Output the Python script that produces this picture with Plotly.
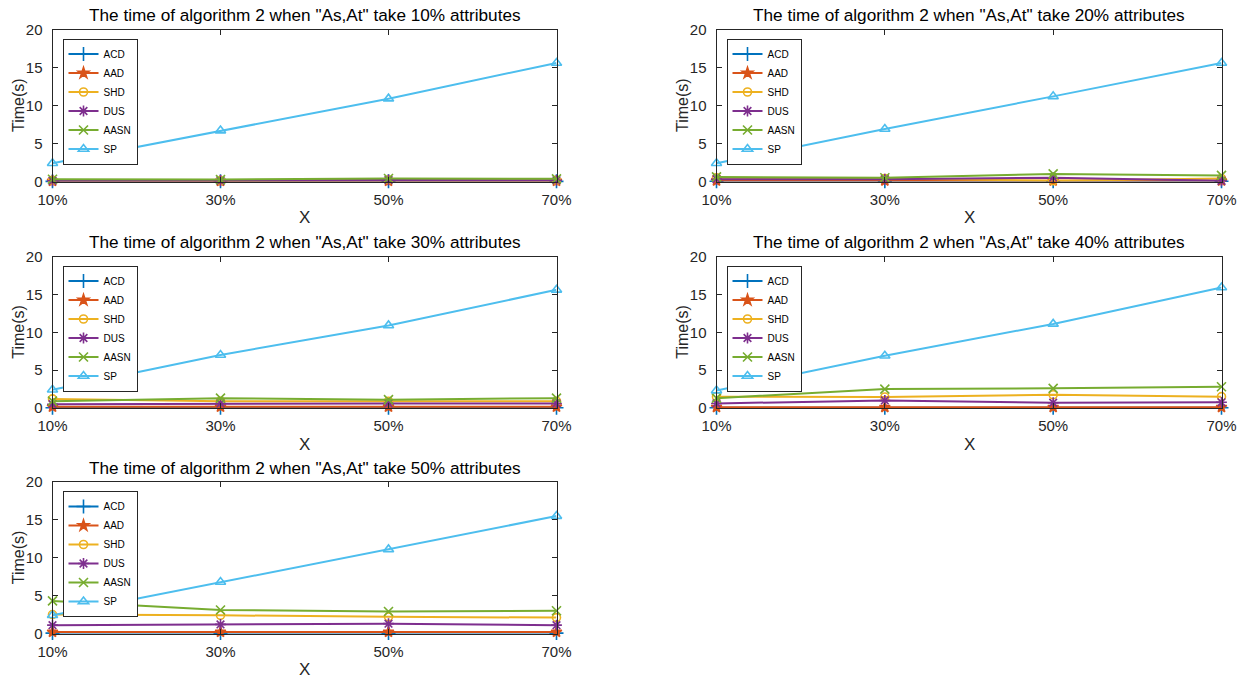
import plotly.graph_objects as go

x_vals = [10, 30, 50, 70]
x_labels = ["10%", "30%", "50%", "70%"]
y_ticks = [0, 5, 10, 15, 20]
series_names = ["ACD", "AAD", "SHD", "DUS", "AASN", "SP"]
panel_pcts = ["10%", "20%", "30%", "40%", "50%"]

# values per panel
p1_ACD = [0.02, 0.02, 0.02, 0.02]
p1_AAD = [0.05, 0.05, 0.06, 0.06]
p1_SHD = [0.15, 0.1, 0.2, 0.15]
p1_DUS = [0.1, 0.1, 0.2, 0.15]
p1_AASN = [0.3, 0.25, 0.4, 0.35]
p1_SP = [2.4, 6.7, 10.9, 15.6]

p2_ACD = [0.03, 0.03, 0.03, 0.03]
p2_AAD = [0.1, 0.1, 0.1, 0.1]
p2_SHD = [0.5, 0.4, 0.1, 0.4]
p2_DUS = [0.3, 0.3, 0.5, 0.1]
p2_AASN = [0.6, 0.5, 1.0, 0.8]
p2_SP = [2.4, 6.9, 11.2, 15.6]

p3_ACD = [0.03, 0.03, 0.03, 0.03]
p3_AAD = [0.15, 0.15, 0.15, 0.15]
p3_SHD = [1.2, 0.9, 0.9, 0.9]
p3_DUS = [0.5, 0.6, 0.6, 0.6]
p3_AASN = [0.9, 1.3, 1.1, 1.3]
p3_SP = [2.4, 7.0, 10.9, 15.6]

p4_ACD = [0.03, 0.03, 0.03, 0.03]
p4_AAD = [0.1, 0.1, 0.1, 0.1]
p4_SHD = [1.5, 1.45, 1.75, 1.5]
p4_DUS = [0.6, 1.0, 0.7, 0.75]
p4_AASN = [1.3, 2.5, 2.6, 2.8]
p4_SP = [2.3, 6.9, 11.1, 15.9]

p5_ACD = [0.05, 0.05, 0.05, 0.05]
p5_AAD = [0.2, 0.2, 0.2, 0.2]
p5_SHD = [2.5, 2.4, 2.2, 2.1]
p5_DUS = [1.1, 1.2, 1.3, 1.1]
p5_AASN = [4.3, 3.1, 2.9, 3.0]
p5_SP = [2.4, 6.8, 11.1, 15.5]

panels = [
    [p1_ACD, p1_AAD, p1_SHD, p1_DUS, p1_AASN, p1_SP],
    [p2_ACD, p2_AAD, p2_SHD, p2_DUS, p2_AASN, p2_SP],
    [p3_ACD, p3_AAD, p3_SHD, p3_DUS, p3_AASN, p3_SP],
    [p4_ACD, p4_AAD, p4_SHD, p4_DUS, p4_AASN, p4_SP],
    [p5_ACD, p5_AAD, p5_SHD, p5_DUS, p5_AASN, p5_SP],
]

colors = ["#0072BD", "#D95319", "#EDB120", "#7E2F8E", "#77AC30", "#4DBEEE"]
symbols = ["cross-thin-open", "star", "circle-open", "asterisk-open", "x-thin-open", "triangle-up-open"]
msizes = [10, 8, 8, 9, 9, 9]

W, H = 1252, 679
# pixel boxes (left, right, top, bottom)
boxes = [
    (52.5, 556.5, 29.5, 181.5),
    (716.5, 1221.5, 29.5, 181.5),
    (52.5, 556.5, 256.5, 408.0),
    (716.5, 1221.5, 256.5, 408.0),
    (52.5, 556.5, 482.0, 633.5),
]

AX = "#262626"
FONT = "Liberation Sans, Arial, sans-serif"

fig = go.Figure()
layout = dict(
    width=W, height=H, autosize=False,
    margin=dict(l=0, r=0, t=0, b=0, autoexpand=False),
    paper_bgcolor="white", plot_bgcolor="white",
    font=dict(family=FONT, color=AX),
    annotations=[],
)

for i, (vals, box) in enumerate(zip(panels, boxes)):
    n = i + 1
    xa = "x" if n == 1 else f"x{n}"
    ya = "y" if n == 1 else f"y{n}"
    lg = "legend" if n == 1 else f"legend{n}"
    for k in range(6):
        mcol = colors[k]
        fig.add_trace(go.Scatter(
            x=x_vals, y=vals[k], name=series_names[k], mode="lines+markers",
            xaxis=xa, yaxis=ya, legend=lg, cliponaxis=False,
            line=dict(color=mcol, width=2),
            marker=dict(symbol=symbols[k], size=msizes[k], color=mcol,
                        line=dict(color=mcol, width=1.6)),
        ))
    l, r, t, b = box
    xkey = "xaxis" if n == 1 else f"xaxis{n}"
    ykey = "yaxis" if n == 1 else f"yaxis{n}"
    layout[xkey] = dict(
        domain=[l / W, r / W], anchor=ya, range=[10, 70], automargin=False,
        tickvals=x_vals, ticktext=x_labels, ticks="inside", ticklen=5,
        tickcolor=AX, showline=True, linecolor=AX, linewidth=1, mirror="ticks",
        showgrid=False, zeroline=False, tickfont=dict(size=15, color=AX),
        ticklabelstandoff=4,
    )
    layout[ykey] = dict(
        domain=[1 - b / H, 1 - t / H], anchor=xa, range=[0, 20], automargin=False,
        tickvals=y_ticks, ticks="inside", ticklen=5,
        tickcolor=AX, showline=True, linecolor=AX, linewidth=1, mirror="ticks",
        showgrid=False, zeroline=False, tickfont=dict(size=15, color=AX),
        ticklabelstandoff=6,
    )
    layout[lg] = dict(
        x=(l + 10) / W, y=1 - (t + 9) / H, xanchor="left", yanchor="top",
        bgcolor="white", bordercolor=AX, borderwidth=1,
        font=dict(size=10, color="#000000", family=FONT),
        tracegroupgap=0, itemwidth=30,
    )
    # panel title
    layout["annotations"].append(dict(
        text=f'The time of algorithm 2 when "As,At" take {panel_pcts[i]} attributes',
        x=(l + r) / 2 / W, y=1 - (t - 14.5) / H, xref="paper", yref="paper",
        xanchor="center", yanchor="middle", showarrow=False,
        font=dict(size=17.2, color="#000000", family=FONT),
    ))
    # x axis label
    layout["annotations"].append(dict(
        text="X", x=(l + r) / 2 / W, y=1 - (b + 36) / H, xref="paper", yref="paper",
        xanchor="center", yanchor="middle", showarrow=False,
        font=dict(size=17, color=AX, family=FONT),
    ))
    # y axis label
    layout["annotations"].append(dict(
        text="Time(s)", x=(l - 34) / W, y=1 - (t + b) / 2 / H, xref="paper", yref="paper",
        xanchor="center", yanchor="middle", showarrow=False, textangle=-90,
        font=dict(size=16, color=AX, family=FONT),
    ))

fig.update_layout(**layout)
fig.write_html(
    "out.html",
    config={"displayModeBar": False},
    post_script="document.body.style.margin='0';document.body.style.padding='0';document.body.style.overflow='hidden';",
)
